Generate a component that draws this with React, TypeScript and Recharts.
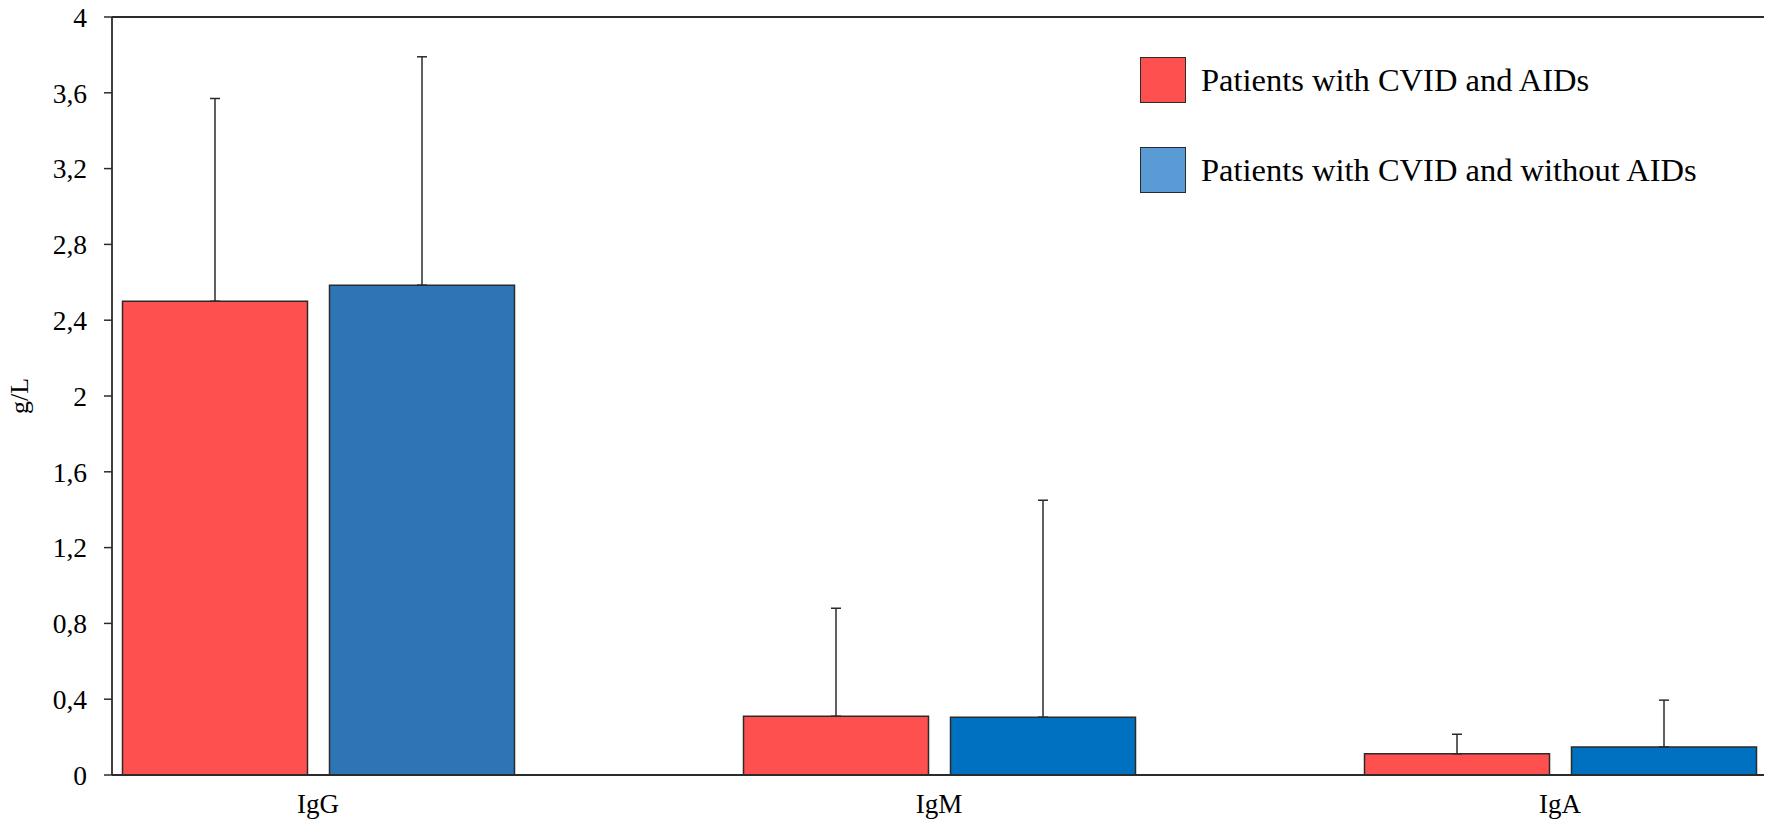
import { BarChart, Bar, XAxis, YAxis, ErrorBar, Cell, Legend, ReferenceLine } from "recharts";

const categories = ["IgG", "IgM", "IgA"];
const withAIDs = [2.5, 0.31, 0.112];
const withAIDsUpper = [3.57, 0.88, 0.215];
const withoutAIDs = [2.585, 0.305, 0.148];
const withoutAIDsUpper = [3.79, 1.45, 0.395];
const yTicks = [0, 0.4, 0.8, 1.2, 1.6, 2, 2.4, 2.8, 3.2, 3.6, 4];
const seriesNames = ["Patients with CVID and AIDs", "Patients with CVID and without AIDs"];

const redFill = "#FF5050";
const blueFills = ["#2E75B6", "#0070C0", "#0070C0"];
const legendColors = ["#FF5050", "#5B9BD5"];
const lineColor = "#2b2b2b";
const font = "Liberation Serif, Tinos, Times New Roman, DejaVu Serif, serif";

const data = categories.map((name, i) => ({
  name,
  red: withAIDs[i],
  redErr: [0, withAIDsUpper[i] - withAIDs[i]],
  blue: withoutAIDs[i],
  blueErr: [0, withoutAIDsUpper[i] - withoutAIDs[i]],
}));

const LegendBox = () => (
  <div style={{ fontFamily: font, fontSize: 32.5, color: "#000" }}>
    {seriesNames.map((label, i) => (
      <div key={label} style={{ display: "flex", alignItems: "center", height: 46, marginBottom: i === 0 ? 44 : 0 }}>
        <div
          style={{
            width: 44,
            height: 44,
            background: legendColors[i],
            border: `1.5px solid ${lineColor}`,
            marginRight: 15,
          }}
        />
        <span style={{ whiteSpace: "nowrap" }}>{label}</span>
      </div>
    ))}
  </div>
);

const YLabel = ({ viewBox }: any) => {
  const cy = viewBox.y + viewBox.height / 2;
  return (
    <text x={19} y={cy} transform={`rotate(-90 19 ${cy})`} textAnchor="middle" dominantBaseline="central" fontSize={26} style={{ fontFamily: font }} fill="#000">
      g/L
    </text>
  );
};

const App = () => {
  return (
    <div style={{ width: 1772, height: 823, marginTop: -8, marginLeft: -8, fontFamily: font }}>
      <style>{`svg text, .recharts-text { font-family: ${font} !important; }`}</style>
      <BarChart width={1772} height={823} data={data} margin={{ top: 17, right: 6, left: 0, bottom: 0 }} barSize={185} barGap={22}>
        <XAxis
          dataKey="name"
          padding={{ left: -104.5, right: -104.5 }}
          tickLine={false}
          tickSize={0}
          tickMargin={19}
          height={48}
          axisLine={{ stroke: lineColor, strokeWidth: 1.8 }}
          tick={{ fontSize: 27, fill: "#000" }}
        />
        <YAxis
          domain={[0, 4]}
          ticks={yTicks}
          width={112}
          interval={0}
          tickSize={8}
          tickMargin={17}
          tickFormatter={(v: number) => String(v).replace(".", ",")}
          axisLine={{ stroke: lineColor, strokeWidth: 1.8 }}
          tickLine={{ stroke: lineColor, strokeWidth: 1.5 }}
          tick={{ fontSize: 27.5, fill: "#000" }}
          label={<YLabel />}
        />
        <YAxis yAxisId="frame" orientation="right" domain={[0, 4]} width={0} tick={false} tickLine={false} axisLine={{ stroke: lineColor, strokeWidth: 1.8 }} />
        <ReferenceLine y={4} stroke={lineColor} strokeWidth={1.8} />
        <Bar dataKey="red" name={seriesNames[0]} fill={redFill} stroke={lineColor} strokeWidth={1.5} isAnimationActive={false}>
          <ErrorBar dataKey="redErr" direction="y" width={5} stroke={lineColor} strokeWidth={1.5} />
        </Bar>
        <Bar dataKey="blue" name={seriesNames[1]} stroke={lineColor} strokeWidth={1.5} isAnimationActive={false}>
          {data.map((d, i) => (
            <Cell key={d.name} fill={blueFills[i]} />
          ))}
          <ErrorBar dataKey="blueErr" direction="y" width={5} stroke={lineColor} strokeWidth={1.5} />
        </Bar>
        <Legend
          layout="vertical"
          align="center"
          verticalAlign="middle"
          content={<LegendBox />}
          wrapperStyle={{ position: "absolute", left: 1140, top: 57, width: "auto" }}
        />
      </BarChart>
    </div>
  );
};

export default App;
